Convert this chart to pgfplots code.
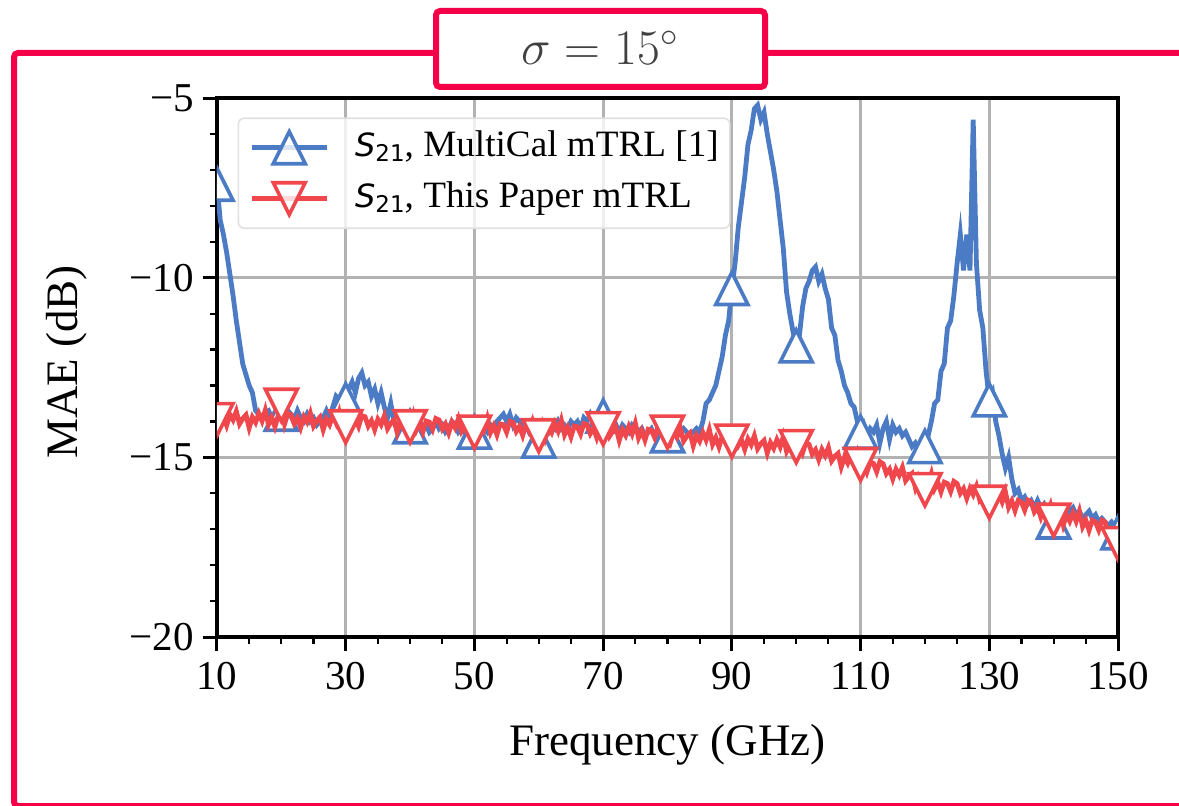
\documentclass[border=0pt]{standalone}
\usepackage{fontspec}
\setmainfont{Liberation Serif}
\newfontfamily\djv{DejaVu Sans}
\usepackage{pgfplots}
\pgfplotsset{compat=1.18}
\usepackage{pgfplotstable}
\definecolor{myblue}{RGB}{74,123,196}
\definecolor{myred}{RGB}{240,71,77}
\definecolor{framec}{RGB}{245,0,72}
\definecolor{gridgray}{RGB}{178,178,178}
\definecolor{titlegray}{RGB}{64,64,64}

\pgfdeclareplotmark{tup}{%
  \pgfpathmoveto{\pgfqpoint{0pt}{\pgfplotmarksize}}%
  \pgfpathlineto{\pgfqpoint{-\pgfplotmarksize}{-\pgfplotmarksize}}%
  \pgfpathlineto{\pgfqpoint{\pgfplotmarksize}{-\pgfplotmarksize}}%
  \pgfpathclose\pgfusepathqfillstroke}
\pgfdeclareplotmark{tdown}{%
  \pgfpathmoveto{\pgfqpoint{0pt}{-\pgfplotmarksize}}%
  \pgfpathlineto{\pgfqpoint{-\pgfplotmarksize}{\pgfplotmarksize}}%
  \pgfpathlineto{\pgfqpoint{\pgfplotmarksize}{\pgfplotmarksize}}%
  \pgfpathclose\pgfusepathqfillstroke}

\pgfplotstableread{
f b r
10 -7.40 -13.95
10.5 -8.40 -14.00
11 -8.80 -13.86
11.5 -9.30 -14.11
12 -9.90 -13.81
12.5 -10.50 -13.96
13 -11.20 -13.72
13.5 -11.80 -14.07
14 -12.40 -13.92
14.5 -12.70 -13.82
15 -13.00 -14.18
15.5 -13.20 -13.88
16 -13.70 -14.03
16.5 -13.80 -13.78
17 -13.90 -13.99
17.5 -13.75 -13.69
18 -13.70 -14.09
18.5 -13.90 -13.89
19 -13.80 -14.15
19.5 -13.70 -13.85
20 -13.80 -13.55
20.5 -13.90 -14.07
21 -13.70 -13.78
21.5 -13.80 -13.81
22 -13.95 -14.06
22.5 -13.70 -13.91
23 -13.90 -14.17
23.5 -14.00 -13.87
24 -13.80 -14.02
24.5 -14.00 -13.77
25 -13.90 -14.13
25.5 -14.10 -13.98
26 -14.00 -13.88
26.5 -13.90 -14.23
27 -13.70 -13.94
27.5 -13.90 -14.09
28 -13.60 -13.84
28.5 -13.30 -14.04
29 -13.40 -13.75
29.5 -13.20 -14.15
30 -13.40 -14.15
30.5 -13.10 -14.20
31 -12.90 -13.91
31.5 -13.20 -13.93
32 -12.80 -14.14
32.5 -12.65 -13.84
33 -13.00 -13.87
33.5 -12.90 -14.13
34 -13.30 -13.98
34.5 -13.10 -14.23
35 -13.50 -13.94
35.5 -13.20 -14.09
36 -13.60 -13.85
36.5 -13.90 -14.20
37 -13.50 -14.05
37.5 -14.00 -13.96
38 -14.10 -14.31
38.5 -14.20 -14.01
39 -14.00 -14.17
39.5 -14.30 -13.92
40 -14.15 -14.15
40.5 -14.10 -13.83
41 -14.30 -14.23
41.5 -14.00 -14.04
42 -14.20 -14.29
42.5 -14.10 -13.99
43 -14.30 -14.02
43.5 -14.20 -14.22
44 -14.00 -13.92
44.5 -14.20 -13.96
45 -14.10 -14.21
45.5 -14.30 -14.07
46 -14.20 -14.32
46.5 -14.00 -14.02
47 -14.10 -14.18
47.5 -14.30 -13.93
48 -14.20 -14.28
48.5 -14.30 -14.14
49 -14.10 -14.04
49.5 -14.20 -14.40
50 -14.30 -14.30
50.5 -14.20 -14.25
51 -14.40 -14.01
51.5 -14.20 -14.21
52 -14.30 -13.91
52.5 -14.10 -14.31
53 -14.20 -14.12
53.5 -14.00 -14.37
54 -13.90 -14.07
54.5 -13.80 -14.09
55 -14.00 -14.30
55.5 -13.80 -14.00
56 -14.10 -14.03
56.5 -13.90 -14.28
57 -14.00 -14.14
57.5 -14.20 -14.39
58 -14.10 -14.09
58.5 -14.30 -14.24
59 -14.20 -14.00
59.5 -14.40 -14.35
60 -14.55 -14.40
60.5 -14.30 -14.10
61 -14.20 -14.46
61.5 -14.30 -14.16
62 -14.10 -14.31
62.5 -14.20 -14.06
63 -14.00 -14.27
63.5 -14.20 -13.97
64 -14.10 -14.37
64.5 -14.20 -14.17
65 -14.00 -14.43
65.5 -14.10 -14.13
66 -14.00 -14.15
66.5 -14.20 -14.35
67 -13.90 -14.06
67.5 -14.00 -14.09
68 -13.80 -14.34
68.5 -14.00 -14.19
69 -14.10 -14.45
69.5 -13.90 -14.15
70 -13.85 -14.20
70.5 -14.10 -14.06
71 -14.00 -14.41
71.5 -14.20 -14.27
72 -14.10 -14.17
72.5 -14.30 -14.53
73 -14.10 -14.23
73.5 -14.20 -14.39
74 -14.30 -14.14
74.5 -14.10 -14.35
75 -14.20 -14.05
75.5 -14.30 -14.46
76 -14.20 -14.26
76.5 -14.40 -14.52
77 -14.30 -14.22
77.5 -14.20 -14.25
78 -14.40 -14.45
78.5 -14.30 -14.16
79 -14.20 -14.19
79.5 -14.40 -14.45
80 -14.40 -14.30
80.5 -14.30 -14.56
81 -14.20 -14.27
81.5 -14.40 -14.43
82 -14.30 -14.19
82.5 -14.20 -14.55
83 -14.30 -14.41
83.5 -14.40 -14.32
84 -14.30 -14.68
84.5 -14.20 -14.39
85 -14.30 -14.55
85.5 -14.00 -14.31
86 -13.50 -14.52
86.5 -13.40 -14.23
87 -13.20 -14.64
87.5 -13.00 -14.45
88 -12.60 -14.71
88.5 -12.20 -14.42
89 -11.60 -14.45
89.5 -11.20 -14.66
90 -10.30 -14.55
90.5 -9.60 -14.41
91 -8.60 -14.67
91.5 -7.90 -14.52
92 -7.20 -14.78
92.5 -6.30 -14.49
93 -5.90 -14.65
93.5 -5.30 -14.40
94 -5.20 -14.76
94.5 -5.60 -14.62
95 -5.40 -14.53
95.5 -6.00 -14.88
96 -6.50 -14.59
96.5 -7.00 -14.75
97 -7.60 -14.51
97.5 -8.40 -14.71
98 -9.20 -14.42
98.5 -10.40 -14.83
99 -11.00 -14.64
99.5 -11.50 -14.89
100 -11.90 -14.70
100.5 -11.60 -14.64
101 -10.80 -14.87
101.5 -10.30 -14.59
102 -10.10 -14.64
102.5 -9.80 -14.91
103 -9.70 -14.79
103.5 -10.10 -15.06
104 -9.90 -14.78
104.5 -10.30 -14.95
105 -10.60 -14.73
105.5 -11.40 -15.10
106 -11.60 -14.97
106.5 -12.30 -14.89
107 -12.60 -15.27
107.5 -13.00 -14.99
108 -13.20 -15.16
108.5 -13.50 -14.93
109 -13.60 -15.16
109.5 -14.00 -14.88
110 -14.30 -15.20
110.5 -14.10 -15.13
111 -14.40 -15.40
111.5 -14.20 -15.13
112 -14.30 -15.17
112.5 -14.10 -15.40
113 -14.60 -15.12
113.5 -14.20 -15.18
114 -14.00 -15.45
114.5 -14.50 -15.33
115 -14.10 -15.60
115.5 -14.30 -15.33
116 -14.20 -15.50
116.5 -14.40 -15.28
117 -14.30 -15.65
117.5 -14.50 -15.53
118 -14.70 -15.45
118.5 -14.60 -15.83
119 -14.80 -15.55
119.5 -14.60 -15.73
120 -14.70 -15.90
120.5 -14.40 -15.72
121 -14.00 -15.45
121.5 -13.50 -15.87
122 -13.40 -15.69
122.5 -12.60 -15.96
123 -12.40 -15.69
123.5 -11.40 -15.73
124 -11.20 -15.95
124.5 -10.50 -15.67
125 -9.60 -15.73
125.5 -8.80 -16.00
126 -9.80 -15.87
126.5 -8.80 -16.14
127 -9.80 -15.87
127.5 -5.60 -16.04
128 -9.60 -15.81
128.5 -10.90 -16.18
129 -11.40 -16.06
129.5 -12.60 -15.98
130 -13.40 -16.25
130.5 -13.20 -16.07
131 -14.00 -16.25
131.5 -14.40 -16.02
132 -14.90 -16.24
132.5 -15.30 -15.96
133 -15.00 -16.39
133.5 -15.60 -16.21
134 -16.00 -16.48
134.5 -15.90 -16.20
135 -16.20 -16.25
135.5 -16.10 -16.47
136 -16.30 -16.19
136.5 -16.20 -16.24
137 -16.40 -16.52
137.5 -16.20 -16.39
138 -16.40 -16.66
138.5 -16.30 -16.38
139 -16.50 -16.56
139.5 -16.40 -16.33
140 -16.80 -16.75
140.5 -16.40 -16.58
141 -16.50 -16.50
141.5 -16.40 -16.88
142 -16.60 -16.60
142.5 -16.50 -16.78
143 -16.40 -16.55
143.5 -16.60 -16.78
144 -16.50 -16.50
144.5 -16.70 -16.93
145 -16.60 -16.75
145.5 -16.50 -17.03
146 -16.70 -16.75
146.5 -16.60 -16.80
147 -16.80 -17.02
147.5 -16.70 -16.75
148 -16.80 -16.80
148.5 -16.90 -17.14
149 -16.80 -17.08
149.5 -16.90 -17.41
150 -17.10 -17.40
}\datatable

\begin{document}
\begin{tikzpicture}
% pink frame
\draw[framec, line width=3pt, rounded corners=2pt] (620pt,376pt) -- (7pt,376pt) -- (7pt,-0.5pt) -- (620pt,-0.5pt);

\begin{axis}[
  at={(108.5pt,84pt)}, anchor=south west,
  scale only axis, width=450.5pt, height=269.5pt,
  xmin=10, xmax=150, ymin=-20, ymax=-5,
  xtick={10,30,50,70,90,110,130,150},
  xticklabels={10,30,50,70,90,110,130,150},
  ytick={-20,-15,-10,-5},
  yticklabels={−20,−15,−10,−5},
  minor xtick={15,20,25,35,40,45,55,60,65,75,80,85,95,100,105,115,120,125,135,140,145},
  minor ytick={-19,-18,-17,-16,-14,-13,-12,-11,-9,-8,-7,-6},
  xtick pos=bottom, ytick pos=left,
  tick align=outside,
  major tick length=7pt, minor tick length=3.5pt,
  every major tick/.style={black, line width=1.5pt},
  every minor tick/.style={black, line width=1.1pt},
  grid=major,
  major grid style={gridgray, line width=1.5pt},
  axis line style={black, line width=1.6pt},
  tick label style={font=\fontsize{20.5}{20.5}\selectfont},
  xticklabel style={yshift=-2pt},
  yticklabel style={xshift=-1pt},
  xlabel={Frequency (GHz)},
  ylabel={MAE (dB)},
  label style={font=\fontsize{22.5}{22.5}\selectfont},
  xlabel style={at={(axis description cs:0.5,-0.2)}, anchor=center},
  ylabel style={at={(axis description cs:-0.1665,0.51)}, anchor=center},
  clip marker paths=true,
  mark size=8pt,
  legend cell align=left,
  legend image code/.code={\draw[mark repeat=2,mark phase=2,#1] plot coordinates {(0pt,0pt) (18.75pt,0pt) (37.5pt,0pt)};},
  legend style={at={(axis description cs:0.0228,0.964)}, anchor=north west,
    draw=black!12, line width=0.8pt, rounded corners=3pt, fill=white, fill opacity=0.8, text opacity=1,
    font=\fontsize{18.6}{18.6}\selectfont,
    inner xsep=5.5pt, inner ysep=6pt, row sep=8pt, column sep=13pt,
    nodes={inner sep=0pt, text height=13pt, text depth=4.5pt}},
]
\addplot[myblue, line width=2.4pt, mark=tup, mark repeat=20, mark options={solid, fill=white, line width=1.8pt}] table[x=f, y=b] {\datatable};
\addlegendentry{{\djv\itshape\fontsize{16}{16}\selectfont S}\raisebox{-2.5pt}{\djv\fontsize{11.5}{11.5}\selectfont 21}, MultiCal mTRL [1]}
\addplot[myred, line width=2.4pt, mark=tdown, mark repeat=20, mark options={solid, fill=white, line width=1.8pt}] table[x=f, y=r] {\datatable};
\addlegendentry{{\djv\itshape\fontsize{16}{16}\selectfont S}\raisebox{-2.5pt}{\djv\fontsize{11.5}{11.5}\selectfont 21}, This Paper mTRL}
\end{axis}

% title box
\draw[framec, line width=3pt, fill=white, rounded corners=2pt] (218pt,359pt) rectangle (382.5pt,397pt);
\node[text=titlegray, font=\fontsize{26}{26}\selectfont] at (300pt,378.5pt) {$\sigma = 15^{\circ}$};

\pgfresetboundingbox
\path (0pt,0pt) rectangle (589.5pt,402.5pt);
\end{tikzpicture}
\end{document}
